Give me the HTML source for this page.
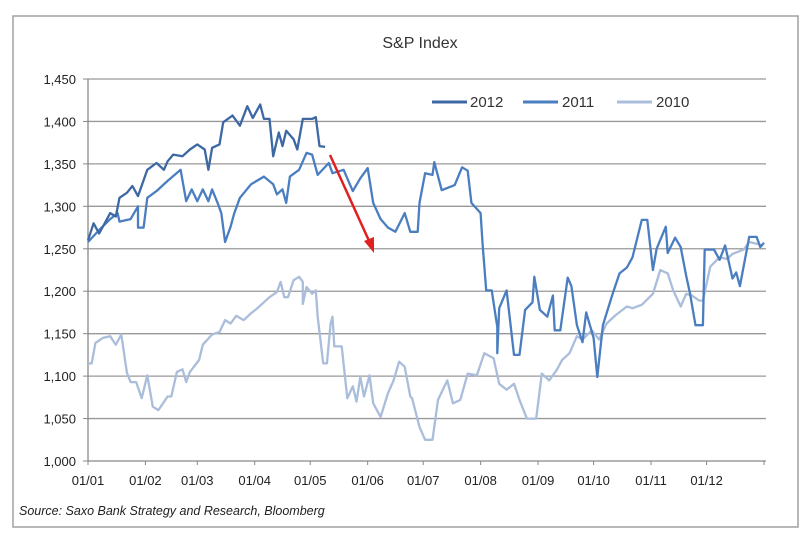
<!DOCTYPE html>
<html><head><meta charset="utf-8"><style>
body{margin:0;background:#fff;width:805px;height:535px;overflow:hidden;font-family:"Liberation Sans",sans-serif}
</style></head><body>
<svg id="chart" width="805" height="535" xmlns="http://www.w3.org/2000/svg">
<rect x="13" y="16" width="785" height="511" fill="#fff" stroke="#a0a0a0" stroke-width="1.5"/>
<text x="420" y="48" text-anchor="middle" font-size="16" fill="#333">S&amp;P Index</text>
<g id="grid"></g><g id="axes"></g><g id="series"></g>
<g font-size="15" fill="#333">
<line x1="432" y1="102" x2="467" y2="102" stroke="#3d68a4" stroke-width="3"/>
<text x="470" y="107">2012</text>
<line x1="523" y1="102" x2="558" y2="102" stroke="#4a7ec0" stroke-width="3"/>
<text x="562" y="107">2011</text>
<line x1="617" y1="102" x2="652" y2="102" stroke="#aabddb" stroke-width="3"/>
<text x="656" y="107">2010</text>
</g>
<g>
<line x1="330" y1="155" x2="370" y2="243" stroke="#e02020" stroke-width="2.5"/>
<polygon points="374,253 364,241 374,237" fill="#e02020"/>
</g>
<text x="19" y="515" font-size="12.5" font-style="italic" fill="#222">Source: Saxo Bank Strategy and Research, Bloomberg</text>
</svg>
<script>
const yTicks=[1000,1050,1100,1150,1200,1250,1300,1350,1400,1450];
const xTickLabels=["01/01","01/02","01/03","01/04","01/05","01/06","01/07","01/08","01/09","01/10","01/11","01/12"];
const xTickDays=[0,31,59,90,120,151,181,212,243,273,304,334];
const days2012=[0,3,6,9,12,15,17,21,24,27,32,37,41,43,46,51,55,59,63,65,67,71,73,78,82,86,89,93,95,98,100,103,105,107,111,113,116,121,123,125,128];
const vals2012=[1260,1280,1268,1280,1292,1288,1310,1316,1324,1312,1343,1351,1343,1353,1361,1359,1367,1373,1367,1343,1369,1373,1399,1407,1395,1418,1404,1420,1403,1403,1359,1387,1371,1389,1379,1367,1403,1403,1405,1371,1370];
const days2011=[0,6,12,16,17,23,27,27,30,32,37,43,50,53,56,59,62,65,67,70,72,74,77,79,82,88,95,100,102,105,107,109,114,118,121,124,130,132,138,143,147,151,154,158,162,166,171,174,178,179,182,186,187,191,198,202,205,207,212,213,215,218,221,221,222,226,230,233,236,240,241,244,248,251,252,255,259,261,264,267,269,273,275,278,283,287,291,294,299,302,305,307,312,313,317,320,323,325,328,332,333,338,341,344,348,350,352,356,357,361,363,365];
const vals2011=[1258,1272,1285,1292,1282,1285,1300,1275,1275,1310,1318,1330,1343,1306,1320,1306,1320,1306,1320,1304,1292,1258,1276,1292,1310,1326,1335,1326,1314,1320,1304,1335,1343,1363,1361,1337,1351,1339,1343,1318,1333,1345,1304,1285,1275,1270,1292,1270,1270,1304,1339,1337,1352,1319,1325,1346,1342,1304,1292,1257,1201,1201,1158,1127,1180,1201,1125,1125,1178,1187,1217,1178,1170,1195,1154,1154,1216,1206,1160,1140,1175,1145,1099,1160,1195,1221,1228,1240,1284,1284,1225,1250,1276,1245,1263,1252,1218,1198,1160,1160,1249,1249,1237,1254,1215,1222,1206,1252,1264,1264,1252,1257];
const days2010=[0,2,4,8,12,15,18,21,23,26,29,32,35,38,43,45,48,51,53,55,60,62,67,71,74,77,80,84,88,91,95,98,102,104,106,108,111,114,116,116,118,121,123,124,127,129,131,132,133,137,140,143,145,147,149,152,154,158,162,165,168,171,174,175,179,182,186,189,194,197,201,205,210,214,219,222,226,230,233,237,242,245,249,253,256,260,264,267,272,276,280,285,291,294,299,305,309,313,316,320,323,326,330,332,336,341,345,348,354,357,361,364];
const vals2010=[1115,1115,1139,1145,1147,1137,1149,1104,1093,1093,1074,1101,1064,1060,1076,1076,1105,1108,1093,1105,1119,1137,1149,1152,1166,1162,1171,1166,1174,1179,1187,1193,1199,1211,1193,1193,1213,1217,1211,1185,1205,1197,1201,1170,1115,1115,1162,1170,1135,1135,1074,1088,1070,1099,1076,1101,1068,1052,1080,1095,1117,1111,1076,1074,1040,1025,1025,1072,1095,1068,1072,1103,1101,1127,1121,1091,1084,1091,1072,1050,1050,1103,1095,1107,1119,1127,1147,1143,1154,1143,1162,1172,1182,1180,1184,1197,1225,1221,1201,1182,1197,1195,1189,1189,1229,1240,1238,1244,1249,1258,1256,1254];

const NS="http://www.w3.org/2000/svg";
const X0=88,X1=764,Y0=461,Y1=79;
function xScale(d){return X0+d/365*(X1-X0);}
function yScale(v){return Y0-(v-1000)/450*(Y0-Y1);}
function mk(tag,attrs,parent){const e=document.createElementNS(NS,tag);for(const k in attrs)e.setAttribute(k,attrs[k]);parent.appendChild(e);return e;}
const grid=document.getElementById('grid'),axes=document.getElementById('axes'),series=document.getElementById('series');
yTicks.forEach(t=>{
  const y=yScale(t);
  if(t>1000){const g=mk('line',{x1:X0,x2:X1+2,y1:y,y2:y,stroke:'#999','stroke-width':1.3},grid);
  
  }
  const tk=mk('line',{x1:X0-5,x2:X0,y1:y,y2:y,stroke:'#888'},axes);
  
  
  const lb=mk('text',{x:X0-12,y:y+5,'text-anchor':'end','font-size':13,fill:'#222'},axes);
  lb.textContent=t.toLocaleString('en-US');
  
  
});
const ya=mk('line',{x1:X0,x2:X0,y1:Y1,y2:Y0,stroke:'#888','stroke-width':1.3},axes);


const xa=mk('line',{x1:X0,x2:X1+2,y1:Y0,y2:Y0,stroke:'#888','stroke-width':1.3},axes);


xTickDays.concat([365]).forEach(d=>{
  const t=mk('line',{x1:xScale(d),x2:xScale(d),y1:Y0,y2:Y0+4,stroke:'#888'},axes);
  
  
});
xTickLabels.forEach((l,i)=>{
  const t=mk('text',{x:xScale(xTickDays[i]),y:485,'text-anchor':'middle','font-size':13,fill:'#222'},axes);
  t.textContent=l;
  
  
});
function draw(days,vals,color,name){
  const pts=days.map((d,i)=>xScale(d).toFixed(1)+','+yScale(vals[i]).toFixed(1)).join(' ');
  const p=mk('polyline',{points:pts,fill:'none',stroke:color,'stroke-width':2.3,'stroke-linejoin':'round'},series);
  
  
}
draw(days2010,vals2010,'#aabddb','line-2010');
draw(days2011,vals2011,'#4a7ec0','line-2011');
draw(days2012,vals2012,'#3d68a4','line-2012');
</script>
</body></html>
